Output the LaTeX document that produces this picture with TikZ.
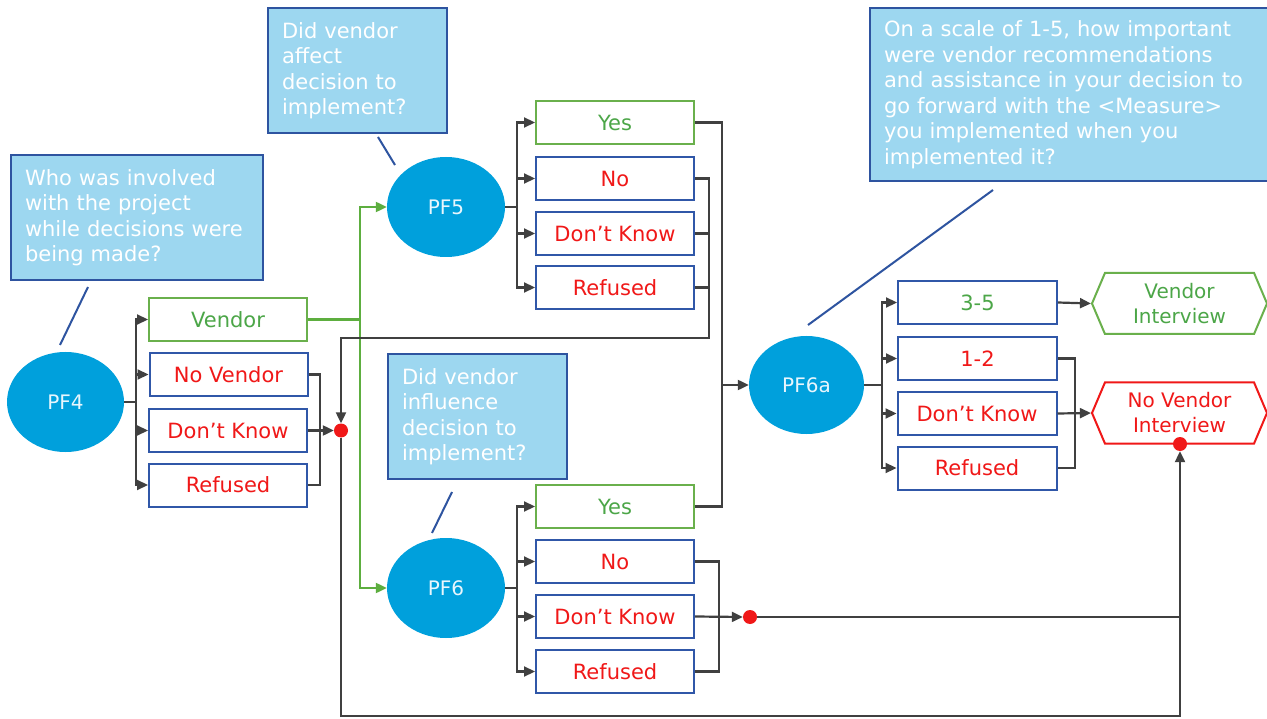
\documentclass[tikz,border=0pt]{standalone}
\usepackage{fontspec}
\setmainfont{DejaVu Sans}
\usetikzlibrary{shapes.geometric,shapes.symbols,arrows.meta}
\definecolor{cfill}{HTML}{9DD7F0}
\definecolor{cborder}{HTML}{2E54A0}
\definecolor{ellfill}{HTML}{00A0DC}
\definecolor{boxblue}{HTML}{3057A8}
\definecolor{gborder}{HTML}{6AB04C}
\definecolor{gtext}{HTML}{4CA648}
\definecolor{rtext}{HTML}{F01818}
\definecolor{lineg}{HTML}{404040}
\definecolor{gline}{HTML}{5DAE3F}
\definecolor{elltext}{HTML}{E8F6FD}
\begin{document}
\begin{tikzpicture}[x=1pt,y=-1pt,
  box/.style={draw=boxblue,line width=2pt,minimum width=158pt,minimum height=43pt,inner sep=0pt,text=rtext,font=\fontsize{21}{25.5}\selectfont},
  gbox/.style={box,draw=gborder,text=gtext},
  bgbox/.style={box,text=gtext},
  ell/.style={ellipse,fill=ellfill,minimum width=117pt,minimum height=100pt,inner sep=0pt,text=elltext,font=\fontsize{20}{24}\selectfont},
  callout/.style={draw=cborder,fill=cfill,line width=1.8pt,text=white,align=left,inner xsep=14pt,inner ysep=0pt,font=\fontsize{21}{25.5}\selectfont},
  hexa/.style={signal,signal to=west and east,signal pointer angle=134,line width=2pt,minimum width=175pt,minimum height=61pt,inner sep=0pt,align=center,font=\fontsize{20}{25}\selectfont},
  conn/.style={draw=lineg,line width=2.2pt},
  arr/.style={conn,-{Triangle[length=11pt,width=10pt]}},
  garr/.style={draw=gline,line width=2.2pt,-{Triangle[length=11pt,width=10pt]}},
  rdot/.style={circle,fill=rtext,minimum size=14pt,inner sep=0pt},
  calline/.style={draw=cborder,line width=2pt}
]
\useasboundingbox (0,0) rectangle (1267,719);
\fill[white] (0,0) rectangle (1267,719);

% callouts
\node[callout,minimum width=252pt,minimum height=125pt,text width=224pt] (c1) at (137,217.5) {Who was involved\\with the project\\while decisions were\\being made?};
\node[callout,minimum width=179pt,minimum height=125pt,text width=151pt] (c5) at (357.5,70.5) {Did vendor\\affect\\decision to\\implement?};
\node[callout,minimum width=179pt,minimum height=125pt,text width=151pt] (c6) at (477.5,416.5) {Did vendor\\influence\\decision to\\implement?};
\node[callout,minimum width=400pt,minimum height=173pt,text width=372pt] (c6a) at (1070,94.5) {On a scale of 1-5, how important\\were vendor recommendations\\and assistance in your decision to\\go forward with the <Measure>\\you implemented when you\\implemented it?};

% ellipses
\node[ell] (pf4) at (65.5,402) {PF4};
\node[ell,minimum width=118pt] (pf5) at (446,207) {PF5};
\node[ell,minimum width=118pt] (pf6) at (446,588) {PF6};
\node[ell,minimum width=115pt,minimum height=98pt] (pf6a) at (806.5,385) {PF6a};

% callout pointers
\draw[calline] (88,287) -- (60,345);
\draw[calline] (378,137) -- (395,165);
\draw[calline] (452,492) -- (432,533);
\draw[calline] (993,190) -- (808,325);

% boxes PF4
\node[gbox] (v4) at (228,319.5) {Vendor};
\node[box] (nv4) at (228.5,374.5) {No Vendor};
\node[box] (dk4) at (228,430.5) {Don’t Know};
\node[box] (rf4) at (228,485) {Refused};
% boxes PF5
\node[gbox] (yes5) at (615,122.5) {Yes};
\node[box] (no5) at (615,178.5) {No};
\node[box] (dk5) at (615,233.5) {Don’t Know};
\node[box] (rf5) at (615,287.5) {Refused};
% boxes PF6
\node[gbox] (yes6) at (615,506.5) {Yes};
\node[box] (no6) at (615,561.5) {No};
\node[box] (dk6) at (615,616.5) {Don’t Know};
\node[box] (rf6) at (615,671.5) {Refused};
% boxes PF6a
\node[bgbox,minimum width=159pt] (t35) at (977.5,302.5) {3-5};
\node[box,minimum width=159pt] (t12) at (977.5,358.5) {1-2};
\node[box,minimum width=159pt] (dka) at (977,413.5) {Don’t Know};
\node[box,minimum width=159pt] (rfa) at (977,468) {Refused};

% outcomes
\node[hexa,draw=gborder,text=gtext] (vi) at (1179.5,303.5) {Vendor\\Interview};
\node[hexa,draw=rtext,text=rtext] (nvi) at (1179.5,413) {No Vendor\\Interview};

% coordinates
\coordinate (j4) at (136,402);
\coordinate (j5) at (517,207);
\coordinate (j6) at (517,588);
\coordinate (j6a) at (882,385);
\coordinate (m4) at (320,430.5);
\coordinate (k5) at (709,338);
\coordinate (ky) at (722,385);
\coordinate (m6) at (719,616.5);
\coordinate (ma) at (1075,413.5);
\coordinate (gv) at (360,319.5);
\coordinate (bot) at (1180,716);

% dots
\node[rdot] (dot4) at (341,430.5) {};
\node[rdot] (dot6) at (750,617) {};
\node[rdot] (dotn) at (1180,444) {};

% PF4 branches
\draw[conn] (pf4.east) -- (j4);
\foreach \b in {v4,nv4,dk4,rf4} \draw[arr] (j4) |- (\b.west);
\draw[conn] (nv4.east) -| (m4) |- (rf4.east);
\draw[arr] (dk4.east) -- (dot4.west);

% Vendor green
\draw[draw=gline,line width=2.2pt] (v4.east) -- (gv);
\draw[garr] (gv) |- (pf5.west);
\draw[garr] (gv) |- (pf6.west);

% PF5 branches
\draw[conn] (pf5.east) -- (j5);
\foreach \b in {yes5,no5,dk5,rf5} \draw[arr] (j5) |- (\b.west);
\draw[arr] (no5.east) -| (k5) -| (dot4.north);
\draw[conn] (dk5.east) -- (dk5.east -| k5);
\draw[conn] (rf5.east) -- (rf5.east -| k5);

% PF6 branches
\draw[conn] (pf6.east) -- (j6);
\foreach \b in {yes6,no6,dk6,rf6} \draw[arr] (j6) |- (\b.west);
\draw[conn] (no6.east) -| (m6) |- (rf6.east);
\draw[arr] (dk6.east) -- (dot6.west);
\draw[conn] (dot6.east) -- (dot6 -| bot);

% Yes to PF6a
\draw[conn] (yes5.east) -| (ky);
\draw[conn] (yes6.east) -| (ky);
\draw[arr] (ky) -- (pf6a.west);

% PF6a branches
\draw[conn] (pf6a.east) -- (j6a);
\foreach \b in {t35,t12,dka,rfa} \draw[arr] (j6a) |- (\b.west);
\draw[arr] (t35.east) -- (vi.west);
\draw[conn] (t12.east) -| (ma) |- (rfa.east);
\draw[arr] (dka.east) -- (nvi.west);

% bottom loop
\draw[arr] (dot4.south) |- (bot) -- (dotn.south);
\end{tikzpicture}
\end{document}
